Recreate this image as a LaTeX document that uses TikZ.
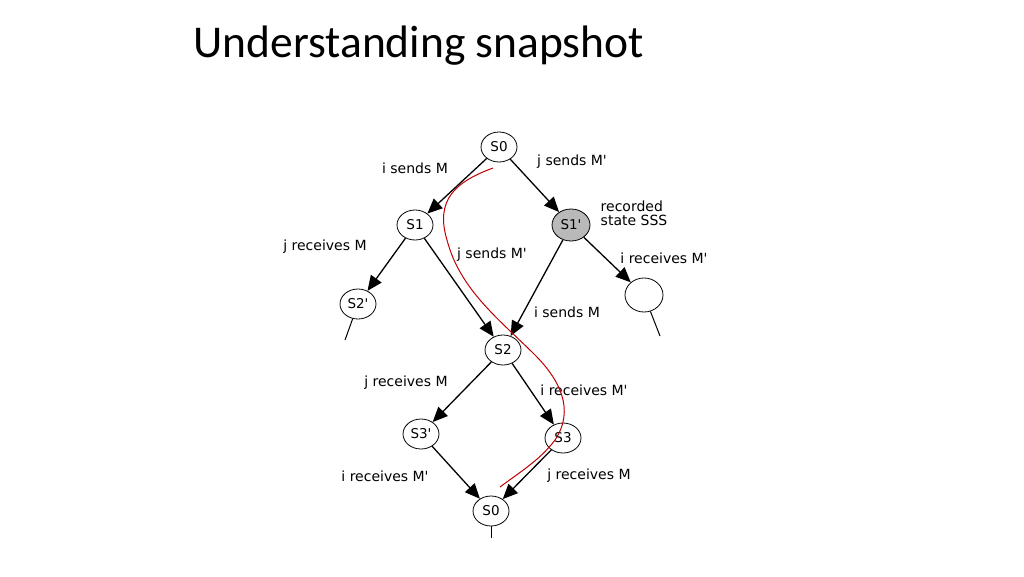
\documentclass[tikz,border=0pt]{standalone}
\usepackage{fontspec}
\setmainfont{DejaVu Sans}
\newfontfamily\titlefont{Carlito}
\usetikzlibrary{arrows.meta,shapes.geometric}
\newcommand\pq{\textquotesingle}
\begin{document}
\begin{tikzpicture}[x=1pt,y=-1pt,
  st/.style={draw,ellipse,line width=0.8pt,minimum width=36pt,minimum height=30pt,inner sep=0pt,font=\fontsize{13.5}{14}\selectfont},
  lbl/.style={font=\fontsize{14}{15}\selectfont,align=left},
  arr/.style={line width=1.3pt,-{Triangle[length=15pt,width=13pt]}},
  tail/.style={line width=1pt}]
\useasboundingbox (0,0) rectangle (1024,576);
\node[font=\titlefont\fontsize{45.5}{48}\selectfont,anchor=west] (title) at (190,46) {Understanding snapshot};
\node[st] (s0) at (499,147) {S0};
\node[st] (s1) at (415,225) {S1};
\node[st,fill=gray!55,minimum width=38pt,minimum height=32pt] (s1p) at (571,225) {S1\pq};
\node[st] (s2p) at (358,304) {S2\pq};
\node[st,minimum width=38pt,minimum height=34pt] (e) at (644,295) {};
\node[st] (s2) at (503,350) {S2};
\node[st] (s3p) at (421,434) {S3\pq};
\node[st] (s3) at (563,438) {S3};
\node[st] (s0b) at (491,511) {S0};
\coordinate (t1) at (345,340);
\coordinate (t2) at (660,336);
\coordinate (t3) at (491,538);
\draw[arr] (s0) -- (s1);
\draw[arr] (s0) -- (s1p);
\draw[arr] (s1) -- (s2p);
\draw[arr] (s1) -- (s2);
\draw[arr] (s1p) -- (s2);
\draw[arr] (s1p) -- (e);
\draw[arr] (s2) -- (s3p);
\draw[arr] (s2) -- (s3);
\draw[arr] (s3p) -- (s0b);
\draw[arr] (s3) -- (s0b);
\draw[tail] (s2p) -- (t1);
\draw[tail] (e) -- (t2);
\draw[tail] (s0b) -- (t3);
\node[lbl] (l1) at (415,168) {i sends M};
\node[lbl] (l2) at (572,162) {j sends M\pq};
\node[lbl,font=\fontsize{14}{14}\selectfont] (l3) at (634,213) {recorded\\state SSS};
\node[lbl] (l4) at (325,247) {j receives M};
\node[lbl] (l5) at (492,255) {j sends M\pq};
\node[lbl] (l6) at (664,258) {i receives M\pq};
\node[lbl] (l7) at (567,312) {i sends M};
\node[lbl] (l8) at (406,383) {j receives M};
\node[lbl] (l9) at (584,390) {i receives M\pq};
\node[lbl] (l10) at (385,476) {i receives M\pq};
\node[lbl] (l11) at (589,476) {j receives M};
\draw[red!75!black,line width=1pt] (493,168) .. controls (455,182) and (435,200) .. (447,240)
  .. controls (460,290) and (500,320) .. (535,355)
  .. controls (560,380) and (575,410) .. (555,440)
  .. controls (540,460) and (520,472) .. (500,487);
\end{tikzpicture}
\end{document}
